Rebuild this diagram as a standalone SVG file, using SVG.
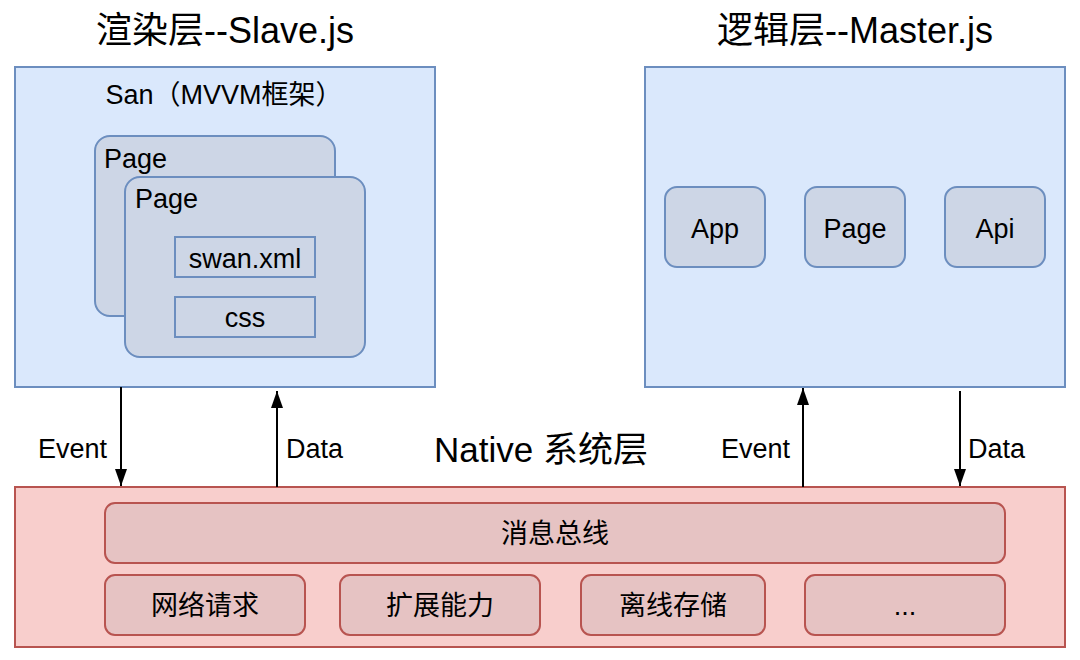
<svg xmlns="http://www.w3.org/2000/svg" width="1080" height="660" viewBox="0 0 1080 660">
  <defs>
    <style>
      text { font-family: "Liberation Sans", "Noto Sans CJK SC", sans-serif; fill: #000; }
      .t { font-size: 27px; }
      .c { text-anchor: middle; }
      .title { font-size: 36px; text-anchor: middle; }
      .blue { fill: #dae8fc; stroke: #6c8ebf; stroke-width: 2; }
      .gray { fill: #cdd6e6; stroke: #6c8ebf; stroke-width: 2; }
      .red { fill: #f8cecc; stroke: #b85450; stroke-width: 2; }
      .red2 { fill: #e6c3c3; stroke: #b85450; stroke-width: 2; }
      .edge { stroke: #000; stroke-width: 2; fill: none; }
    </style>
    <marker id="arr" viewBox="0 0 17 12" refX="17" refY="6" markerWidth="17" markerHeight="12" markerUnits="userSpaceOnUse" orient="auto">
      <path d="M0,0 L17,6 L0,12 Z" fill="#000"/>
    </marker>
  </defs>

  <g id="title-slave">
    <text class="title" x="225" y="43">渲染层--Slave.js</text>
  </g>
  <g id="title-master">
    <text class="title" x="855" y="43">逻辑层--Master.js</text>
  </g>

  <g id="slave">
    <rect class="blue" x="15" y="67" width="420" height="320"/>
    <text class="t c" x="224" y="104">San（MVVM框架）</text>
  </g>
  <g id="page-back">
    <rect class="gray" x="95" y="136" width="240" height="180" rx="15"/>
    <text class="t" x="104" y="168">Page</text>
  </g>
  <g id="page-front">
    <rect class="gray" x="125" y="177" width="240" height="180" rx="15"/>
    <text class="t" x="135" y="208">Page</text>
  </g>
  <g id="swan-xml">
    <rect class="gray" x="175" y="237" width="140" height="40"/>
    <text class="t c" x="245" y="268">swan.xml</text>
  </g>
  <g id="css">
    <rect class="gray" x="175" y="297" width="140" height="40"/>
    <text class="t c" x="245" y="327">css</text>
  </g>

  <g id="master">
    <rect class="blue" x="645" y="67" width="420" height="320"/>
  </g>
  <g id="app">
    <rect class="gray" x="665" y="187" width="100" height="80" rx="12"/>
    <text class="t c" x="715" y="238">App</text>
  </g>
  <g id="page-m">
    <rect class="gray" x="805" y="187" width="100" height="80" rx="12"/>
    <text class="t c" x="855" y="238">Page</text>
  </g>
  <g id="api">
    <rect class="gray" x="945" y="187" width="100" height="80" rx="12"/>
    <text class="t c" x="995" y="238">Api</text>
  </g>

  <g id="native-label">
    <text x="541" y="462" style="font-size:35px" class="c">Native 系统层</text>
  </g>

  <g id="native">
    <rect class="red" x="15" y="487" width="1050" height="160"/>
  </g>
  <g id="bus">
    <rect class="red2" x="105" y="503" width="900" height="60" rx="10"/>
    <text class="t c" x="555" y="543">消息总线</text>
  </g>
  <g id="network">
    <rect class="red2" x="105" y="575" width="200" height="60" rx="10"/>
    <text class="t c" x="205" y="615">网络请求</text>
  </g>
  <g id="extend">
    <rect class="red2" x="340" y="575" width="200" height="60" rx="10"/>
    <text class="t c" x="440" y="615">扩展能力</text>
  </g>
  <g id="storage">
    <rect class="red2" x="581" y="575" width="184" height="60" rx="10"/>
    <text class="t c" x="673" y="615">离线存储</text>
  </g>
  <g id="more">
    <rect class="red2" x="805" y="575" width="200" height="60" rx="10"/>
    <text class="t c" x="905" y="615">...</text>
  </g>

  <g id="connectors">
    <line class="edge" x1="121" y1="387" x2="121" y2="486" marker-end="url(#arr)"/>
    <line class="edge" x1="277" y1="487" x2="277" y2="391" marker-end="url(#arr)"/>
    <line class="edge" x1="803" y1="487" x2="803" y2="388" marker-end="url(#arr)"/>
    <line class="edge" x1="960" y1="391" x2="960" y2="486" marker-end="url(#arr)"/>
    <text class="t" x="107" y="458" text-anchor="end">Event</text>
    <text class="t" x="286" y="458">Data</text>
    <text class="t" x="790" y="458" text-anchor="end">Event</text>
    <text class="t" x="968" y="458">Data</text>
  </g>
</svg>
